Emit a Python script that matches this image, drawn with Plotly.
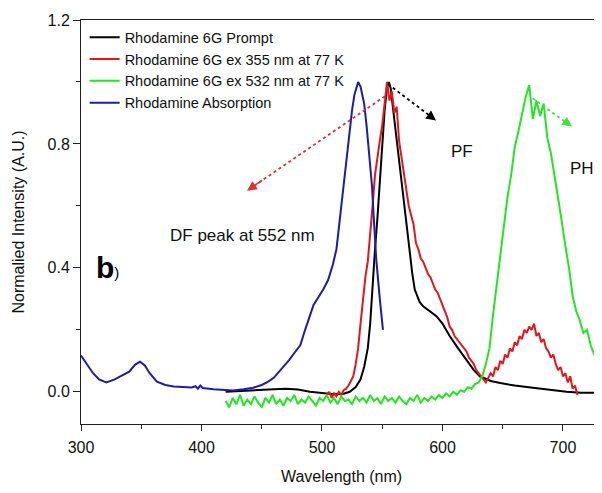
import plotly.graph_objects as go

# ---------------- data ----------------
prompt_x = [420, 440, 460, 470, 480, 490, 500, 510, 518, 523, 528, 532, 535, 538, 540,
            542, 544, 546, 548, 550, 552, 554, 555.5, 557, 560, 562, 565, 568, 570, 572,
            575, 577, 581, 584, 590, 595, 600, 606, 613, 620, 626, 631, 640, 648, 660,
            675, 690, 703, 715, 732]
prompt_y = [0.0, 0.003, 0.008, 0.01, 0.007, 0.0, -0.005, -0.008, -0.006, 0.0, 0.015, 0.04, 0.08, 0.14, 0.22,
            0.35, 0.46, 0.56, 0.68, 0.80, 0.91, 0.98, 1.0, 0.98, 0.88, 0.81, 0.70, 0.60, 0.535, 0.46,
            0.38, 0.33, 0.29, 0.276, 0.26, 0.244, 0.22, 0.18, 0.14, 0.104, 0.07, 0.05, 0.035, 0.028, 0.02,
            0.013, 0.006, 0.0, -0.003, -0.003]

ex355_x = [504, 506, 508, 510, 512, 514, 516, 518, 520, 522,
           524, 526, 528, 530, 532, 534, 536, 538, 540, 542,
           544, 546, 548, 550, 552, 554, 556, 558, 560, 562,
           564, 566, 568, 570, 572, 574, 576, 578, 580, 582,
           584, 586, 588, 590, 592, 594, 596, 598, 600, 602,
           604, 606, 608, 610, 612, 614, 616, 618, 620, 622,
           624, 626, 628, 630, 632, 634, 636, 638, 640, 642,
           644, 646, 648, 650, 652, 654, 656, 658, 660, 662,
           664, 666, 668, 670, 672, 674, 676, 678, 680, 682,
           684, 686, 688, 690, 692, 694, 696, 698, 700, 702,
           704, 706, 708, 710, 712]
ex355_y = [-0.01, 0.0, -0.02, -0.005, -0.015, 0.0, -0.01, 0.005, 0.01, 0.02,
           0.035, 0.05, 0.09, 0.14, 0.22, 0.30, 0.37, 0.42, 0.50, 0.60,
           0.70, 0.76, 0.81, 0.86, 0.93, 1.0, 0.94, 0.97, 0.90, 0.92,
           0.81, 0.76, 0.70, 0.66, 0.60, 0.57, 0.54, 0.48, 0.46, 0.43,
           0.42, 0.40, 0.38, 0.37, 0.35, 0.33, 0.32, 0.30, 0.28, 0.26,
           0.24, 0.21, 0.20, 0.18, 0.17, 0.16, 0.15, 0.14, 0.13, 0.11,
           0.10, 0.09, 0.07, 0.06, 0.05, 0.04, 0.03, 0.045, 0.06, 0.05,
           0.08, 0.07, 0.10, 0.09, 0.12, 0.11, 0.14, 0.13, 0.16, 0.15,
           0.18, 0.17, 0.20, 0.19, 0.21, 0.20, 0.22, 0.18, 0.19, 0.16,
           0.17, 0.14, 0.13, 0.11, 0.12, 0.09, 0.07, 0.08, 0.05, 0.06,
           0.03, 0.05, 0.01, 0.02, -0.01]

ex532_x = [420, 423, 426, 429, 432, 435, 438, 441, 444, 447,
           450, 453, 456, 459, 462, 465, 468, 471, 474, 477,
           480, 483, 486, 489, 492, 495, 498, 501, 504, 507,
           510, 513, 516, 519, 522, 525, 528, 531, 534, 537,
           540, 543, 546, 549, 552, 555, 558, 561, 564, 567,
           570, 573, 576, 579, 582, 585, 588, 591, 594, 597,
           600, 603, 606, 609, 612, 615, 618, 621, 624, 627,
           630, 633, 636, 639, 642, 645, 648, 651, 654, 657,
           660, 663, 666, 669, 672, 675, 678, 681, 684, 687,
           690, 693, 696, 699, 702, 705, 708, 711, 714, 717,
           720, 723, 726, 729, 732]
ex532_y = [-0.03, -0.05, -0.02, -0.04, -0.01, -0.045, -0.025, -0.04, -0.015, -0.035,
           -0.05, -0.02, -0.035, -0.01, -0.04, -0.025, -0.045, -0.02, -0.03, -0.01,
           -0.04, -0.025, -0.035, -0.015, -0.03, -0.045, -0.02, -0.03, -0.01, -0.035,
           -0.02, -0.04, -0.015, -0.03, -0.025, -0.04, -0.015, -0.03, -0.02, -0.035,
           -0.01, -0.03, -0.02, -0.04, -0.015, -0.03, -0.02, -0.035, -0.015, -0.03,
           -0.04, -0.02, -0.03, -0.01, -0.035, -0.02, -0.03, -0.015, -0.025, -0.01,
           -0.02, -0.005, -0.015, 0.0, -0.01, 0.005, 0.0, 0.015, 0.01, 0.025,
           0.03, 0.05, 0.09, 0.14, 0.25, 0.35, 0.44, 0.55, 0.63, 0.70,
           0.79, 0.84, 0.90, 0.95, 0.99, 0.88, 0.94, 0.89, 0.93, 0.82,
           0.77, 0.70, 0.62, 0.55, 0.47, 0.40, 0.31, 0.26, 0.23, 0.19,
           0.20, 0.15, 0.12, 0.10, 0.09]

abs_x = [300, 305, 310, 315, 321, 328, 335, 340, 345, 349, 353, 357, 363, 370, 377,
         385, 392, 395, 397, 399, 401, 410, 420, 426, 435, 443, 450, 455, 460, 467,
         473, 478, 482, 486, 490, 493, 497, 501, 505, 509, 512, 516, 519, 522, 525,
         527, 529, 530, 532, 535, 537, 539, 541.5, 543, 545, 548, 550.6]
abs_y = [0.117, 0.09, 0.06, 0.04, 0.03, 0.04, 0.055, 0.065, 0.088, 0.097, 0.085, 0.06, 0.033, 0.022, 0.017,
         0.016, 0.014, 0.018, 0.01, 0.02, 0.012, 0.008, 0.005, 0.004, 0.008, 0.013, 0.022, 0.032, 0.045, 0.075,
         0.104, 0.13, 0.15, 0.20, 0.25, 0.28, 0.305, 0.33, 0.36, 0.41, 0.46, 0.60, 0.70, 0.82, 0.91,
         0.96, 0.99, 1.0, 0.985, 0.93, 0.86, 0.77, 0.665, 0.56, 0.43, 0.30, 0.20]

series_names = ["Rhodamine 6G Prompt", "Rhodamine 6G ex 355 nm at 77 K",
                "Rhodamine 6G ex 532 nm at 77 K", "Rhodamine Absorption"]
series_colors = ["#000000", "#e3161c", "#22e622", "#1c1cae"]

# dotted arrows: (start_x, start_y, end_x, end_y)
arrow_black = [554.8, 0.993, 594.6, 0.876]
arrow_red = [552.3, 0.954, 437.8, 0.649]
arrow_green = [675.0, 0.947, 707.5, 0.856]

x_ticks = [300, 400, 500, 600, 700]
y_ticks = [0.0, 0.4, 0.8, 1.2]

# ---------------- figure ----------------
FONT = "Liberation Sans, Arial, sans-serif"
fig = go.Figure()
data = [(prompt_x, prompt_y), (ex355_x, ex355_y), (ex532_x, ex532_y), (abs_x, abs_y)]
for (xs, ys), name, col in zip(data, series_names, series_colors):
    fig.add_trace(go.Scatter(x=xs, y=ys, mode="lines", name=name,
                             line=dict(color=col, width=2)))

for arr, col in [(arrow_black, "#000000"), (arrow_red, "#e03030"), (arrow_green, "#40e040")]:
    sx, sy, ex, ey = arr
    fig.add_shape(type="line", x0=sx, y0=sy, x1=ex, y1=ey, xref="x", yref="y",
                  line=dict(color=col, width=1.8, dash="dot"))
    bx = ex - (ex - sx) * 0.12
    by = ey - (ey - sy) * 0.12
    fig.add_annotation(x=ex, y=ey, ax=bx, ay=by, axref="x", ayref="y", xref="x", yref="y",
                       text="", showarrow=True, arrowhead=2, arrowsize=1.3,
                       arrowwidth=1.5, arrowcolor=col)

fig.add_annotation(x=616, y=0.775, text="PF", showarrow=False,
                   font=dict(family=FONT, size=17, color="#111"))
fig.add_annotation(x=715.5, y=0.72, text="PH", showarrow=False,
                   font=dict(family=FONT, size=17, color="#111"))
fig.add_annotation(x=434, y=0.506, text="DF peak at 552 nm", showarrow=False,
                   font=dict(family=FONT, size=17, color="#111"))
fig.add_annotation(x=311, y=0.40, xanchor="left",
                   text="<b>b</b><span style='font-size:15px'>)</span>", showarrow=False,
                   font=dict(family=FONT, size=30, color="#000"))

fig.update_layout(
    width=594, height=485,
    margin=dict(l=73, r=0, t=12, b=69),
    paper_bgcolor="white", plot_bgcolor="white",
    font=dict(family=FONT, size=16, color="#111"),
    showlegend=True,
    legend=dict(x=0.007, y=0.997, xanchor="left", yanchor="top",
                bgcolor="rgba(0,0,0,0)", font=dict(family=FONT, size=14.5, color="#111"),
                tracegroupgap=0, itemwidth=30),
    xaxis=dict(range=[300, 732.4], tickvals=x_ticks, ticktext=[str(v) for v in x_ticks],
               showgrid=False, zeroline=False, showline=True, linecolor="#222",
               linewidth=1, mirror=True, ticks="outside", ticklen=6, tickcolor="#222",
               tickfont=dict(size=16), ticklabelstandoff=3,
               minor=dict(dtick=50, ticks="outside", ticklen=4, tickcolor="#222"),
               title=dict(text="Wavelength (nm)", font=dict(size=16), standoff=15)),
    yaxis=dict(range=[-0.104, 1.2], tickvals=y_ticks, ticktext=["%.1f" % v for v in y_ticks],
               showgrid=False, zeroline=False, showline=True, linecolor="#222",
               linewidth=1, ticks="outside", ticklen=7, tickcolor="#222",
               tickfont=dict(size=16),
               minor=dict(tickvals=[0.2, 0.6, 1.0], ticks="outside", ticklen=4, tickcolor="#222"),
               title=dict(text="Normalied Intensity (A.U.)", font=dict(size=16), standoff=18)),
)

fig.write_html("out.html")
